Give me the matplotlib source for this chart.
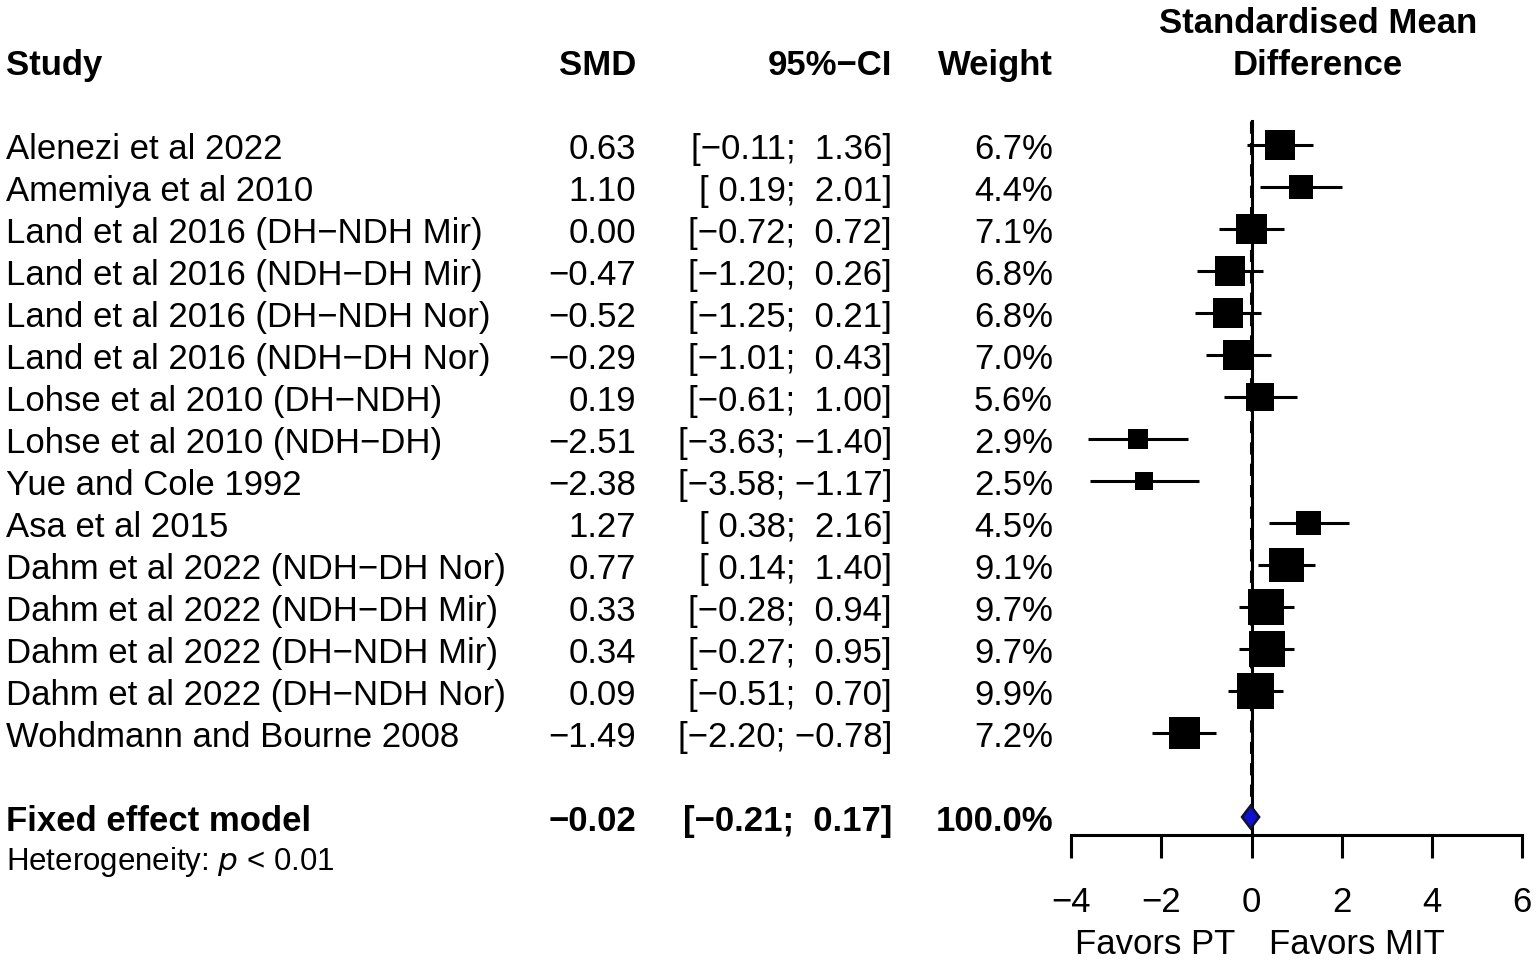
import numpy as np
import matplotlib.pyplot as plt

plt.rcParams['font.family'] = ['Liberation Sans', 'DejaVu Sans']

# Study data
studies = ["Alenezi et al 2022", "Amemiya et al 2010", "Land et al 2016 (DH\u2212NDH Mir)",
           "Land et al 2016 (NDH\u2212DH Mir)", "Land et al 2016 (DH\u2212NDH Nor)",
           "Land et al 2016 (NDH\u2212DH Nor)", "Lohse et al 2010 (DH\u2212NDH)",
           "Lohse et al 2010 (NDH\u2212DH)", "Yue and Cole 1992", "Asa et al 2015",
           "Dahm et al 2022 (NDH\u2212DH Nor)", "Dahm et al 2022 (NDH\u2212DH Mir)",
           "Dahm et al 2022 (DH\u2212NDH Mir)", "Dahm et al 2022 (DH\u2212NDH Nor)",
           "Wohdmann and Bourne 2008"]
smd = [0.63, 1.10, 0.00, -0.47, -0.52, -0.29, 0.19, -2.51, -2.38, 1.27, 0.77, 0.33, 0.34, 0.09, -1.49]
lower = [-0.11, 0.19, -0.72, -1.20, -1.25, -1.01, -0.61, -3.63, -3.58, 0.38, 0.14, -0.28, -0.27, -0.51, -2.20]
upper = [1.36, 2.01, 0.72, 0.26, 0.21, 0.43, 1.00, -1.40, -1.17, 2.16, 1.40, 0.94, 0.95, 0.70, -0.78]
weight = [6.7, 4.4, 7.1, 6.8, 6.8, 7.0, 5.6, 2.9, 2.5, 4.5, 9.1, 9.7, 9.7, 9.9, 7.2]

fixed_smd = -0.02
fixed_lower = -0.21
fixed_upper = 0.17
fixed_weight = 100.0
xticks = [-4, -2, 0, 2, 4, 6]

def num(v):
    return ("%.2f" % v).replace("-", "\u2212")

def ci(lo, hi):
    a = num(lo) if lo < 0 else " " + num(lo)
    b = num(hi) if hi < 0 else " " + num(hi)
    return "[%s; %s]" % (a, b)

W, H = 1536, 962
fig = plt.figure(figsize=(W / 100, H / 100), dpi=100)

# rows: pixel y = 146 + 42*row
ylim = ((H - 146) / 42, -146 / 42)
ax = fig.add_axes([0, 0, 1, 1])
ax.set_xlim(0, W)
ax.set_ylim(*ylim)
ax.axis('off')

fx = fig.add_axes([0, 0, 1, 1])
fx.patch.set_alpha(0)
x0, sc = 1251.5, 45.1
fx.set_xlim(-x0 / sc, (W - x0) / sc)
fx.set_ylim(*ylim)

fs = 25
va = 'center_baseline'
rows = np.arange(len(studies))
fixed_row = 16

# headers
ax.text(6, -2, "Study", fontsize=fs, fontweight='bold', ha='left', va=va)
ax.text(636, -2, "SMD", fontsize=fs, fontweight='bold', ha='right', va=va)
ax.text(892, -2, "95%\u2212CI", fontsize=fs, fontweight='bold', ha='right', va=va)
ax.text(1053, -2, "Weight", fontsize=fs, fontweight='bold', ha='right', va=va)
ax.text(1318, -3, "Standardised Mean", fontsize=fs, fontweight='bold', ha='center', va=va)
ax.text(1318, -2, "Difference", fontsize=fs, fontweight='bold', ha='center', va=va)

for r, s, m, lo, hi, w in zip(rows, studies, smd, lower, upper, weight):
    ax.text(6, r, s, fontsize=fs, ha='left', va=va)
    ax.text(636, r, num(m), fontsize=fs, ha='right', va=va)
    ax.text(892, r, ci(lo, hi), fontsize=fs, ha='right', va=va)
    ax.text(1053, r, "%.1f%%" % w, fontsize=fs, ha='right', va=va)

ax.text(6, fixed_row, "Fixed effect model", fontsize=fs, fontweight='bold', ha='left', va=va)
ax.text(636, fixed_row, num(fixed_smd), fontsize=fs, fontweight='bold', ha='right', va=va)
ax.text(892, fixed_row, ci(fixed_lower, fixed_upper), fontsize=fs, fontweight='bold', ha='right', va=va)
ax.text(1053, fixed_row, "%.1f%%" % fixed_weight, fontsize=fs, fontweight='bold', ha='right', va=va)
ax.text(6, fixed_row + 0.95, "Heterogeneity: $\\it{p}$ < 0.01", fontsize=22.5, ha='left', va=va)

# reference lines
axis_row = 16.42
fx.plot([0, 0], [-0.57, axis_row], color='black', lw=2.2, zorder=1)
fx.plot([fixed_smd, fixed_smd], [-0.57, fixed_row - 0.3], color='black', lw=2.2,
        ls=(0, (4, 3)), zorder=1)

# CI lines and squares
for r, lo, hi in zip(rows, lower, upper):
    fx.plot([lo, hi], [r, r], color='black', lw=2.2, zorder=2, solid_capstyle='butt')
fx.scatter(smd, rows, s=np.array(weight) * 69.6, marker='s', color='black', zorder=3, linewidths=0)

# diamond
dh = 0.27
fx.fill([fixed_lower, fixed_smd, fixed_upper, fixed_smd],
        [fixed_row, fixed_row - dh, fixed_row, fixed_row + dh],
        facecolor='#1010d0', edgecolor='#101030', lw=1.8, zorder=4)

# axis
for sp in ['left', 'right', 'top']:
    fx.spines[sp].set_visible(False)
fx.spines['bottom'].set_position(('data', axis_row))
fx.spines['bottom'].set_bounds(xticks[0], xticks[-1])
fx.spines['bottom'].set_linewidth(2.2)
fx.set_xticks(xticks)
fx.set_xticklabels([str(t).replace("-", "\u2212") for t in xticks], fontsize=fs)
fx.tick_params(axis='x', direction='out', length=16.5, width=2.2, pad=20)
fx.set_yticks([])

fx.text(-0.35, 18.92, "Favors PT", fontsize=fs, ha='right', va=va)
fx.text(0.38, 18.92, "Favors MIT", fontsize=fs, ha='left', va=va)

fig.savefig("out.png", dpi=100)
